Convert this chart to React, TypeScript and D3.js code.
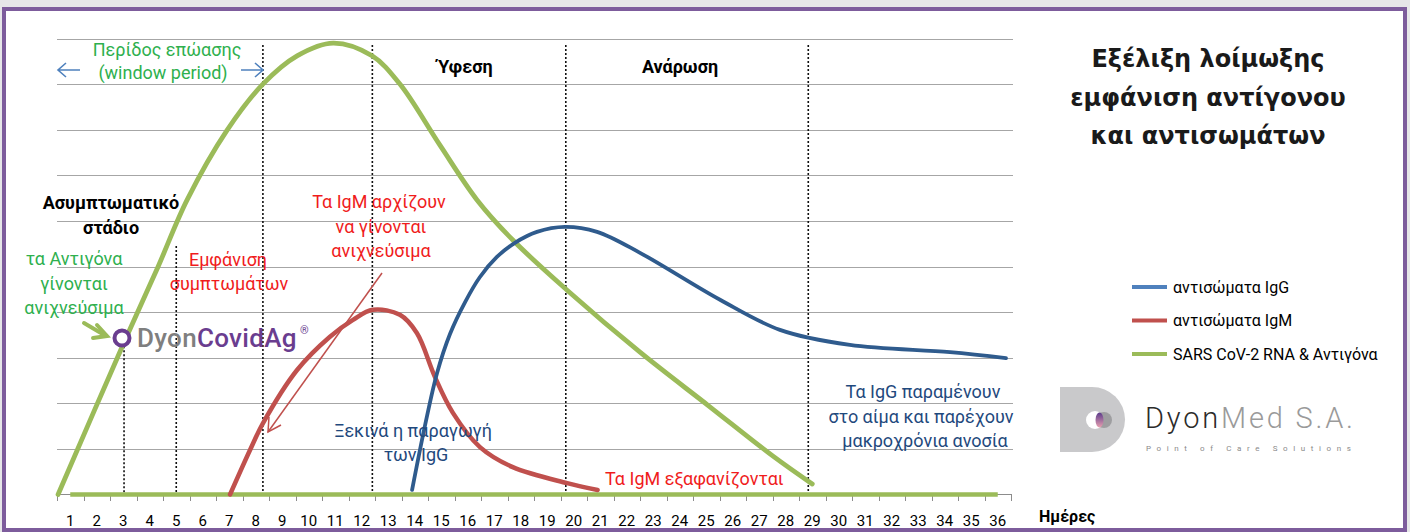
import React from 'react';
import * as d3 from 'd3';

// days on the x axis
const days = d3.range(1, 37);

// values: [day, level]
const antigenCurve: [number, number][] = [
  [0.54, 0], [3.07, 3.39], [4.31, 4.99], [5.41, 6.46], [6.92, 7.99], [8.27, 9.0],
  [9.56, 9.62], [10.92, 9.9], [12.39, 9.62], [13.44, 9.0], [14.95, 7.66], [16.35, 6.46],
  [17.7, 5.58], [19.75, 4.48], [22.5, 3.12], [25.1, 1.94], [27.52, 0.84], [29, 0.23],
];
const antigenFloor: [number, number][] = [[1, 0], [36, 0]];

const igmCurve: [number, number][] = [
  [7.03, 0], [7.78, 0.97], [8.27, 1.56], [9.56, 2.73], [10.8, 3.46], [11.67, 3.83],
  [12.42, 4.05], [13.44, 3.94], [14.08, 3.54], [14.76, 2.58], [15.44, 1.79],
  [16.46, 1.04], [17.7, 0.6], [19.75, 0.25], [20.9, 0.1],
];

const iggCurve: [number, number][] = [
  [13.9, 0.1], [14.39, 1.52], [14.84, 2.66], [15.33, 3.52], [15.9, 4.22], [16.46, 4.77],
  [17.1, 5.21], [17.78, 5.52], [18.61, 5.76], [19.67, 5.87], [20.88, 5.76], [22.5, 5.3],
  [25.52, 4.27], [27.78, 3.61], [30.42, 3.28], [34.2, 3.12], [36.31, 2.99],
];

// dotted phase markers: [day, top level]
const markers: [number, number][] = [
  [3.03, 3.25], [5.0, 5.45], [8.27, 9.86], [12.4, 9.86], [19.7, 9.86], [28.85, 9.86],
];

const legendItems = [
  { label: 'αντισώματα IgG', color: '#4f81bd' },
  { label: 'αντισώματα IgM', color: '#c0504d' },
  { label: 'SARS CoV-2 RNA & Αντιγόνα', color: '#9bbb59' },
];

const titleLines = ['Εξέλιξη λοίμωξης', 'εμφάνιση αντίγονου', 'και αντισωμάτων'];

const W = 1410;
const H = 532;
const FONT = 'Roboto, "Noto Sans", sans-serif';
const RED_TXT = '#f01c1c';
const GREEN_TXT = '#2eb04e';
const BLUE_TXT = '#1f497d';

export default function App() {
  const xBand = d3.scaleBand<number>().domain(days).range([57, 1011]);
  const x = d3.scaleLinear().domain([0.5, 36.5]).range([57, 1011]);
  const y = d3.scaleLinear().domain([0, 10]).range([494.5, 38.5]);

  const line = d3
    .line<[number, number]>()
    .x((d) => x(d[0]))
    .y((d) => y(d[1]))
    .curve(d3.curveCatmullRom.alpha(0.5));

  const gridVals = d3.range(1, 11);
  const tickEdges = d3.range(0, 37).map((i) => 57 + i * xBand.bandwidth());

  return (
    <div style={{ position: 'absolute', left: 0, top: 0 }}>
      <svg width={W} height={H} style={{ display: 'block', fontFamily: FONT }}>
        <defs>
          <linearGradient id="lens" x1="0" y1="0" x2="0" y2="1">
            <stop offset="0" stopColor="#5b3b8c" />
            <stop offset="1" stopColor="#e8a0b0" />
          </linearGradient>
        </defs>
        <rect x={0} y={0} width={W} height={H} fill="#e6e6e8" />
        <rect x={4} y={9} width={1401} height={521} fill="#fff" stroke="#7d5c9c" strokeWidth={4} />

        {/* gridlines */}
        <g stroke="#a6a6a6" strokeWidth={1}>
          {gridVals.map((v) => (
            <line key={v} x1={57} x2={1013} y1={Math.round(y(v)) + 0.5} y2={Math.round(y(v)) + 0.5} />
          ))}
        </g>

        {/* axis */}
        <g stroke="#8c8c8c" strokeWidth={1}>
          <line x1={57} x2={1011} y1={494.5} y2={494.5} />
          {tickEdges.map((t, i) => (
            <line key={i} x1={Math.round(t) + 0.5} x2={Math.round(t) + 0.5} y1={494} y2={501} />
          ))}
        </g>
        <g fontSize={15} fill="#000" textAnchor="middle">
          {days.map((d) => (
            <text key={d} x={xBand(d)! + xBand.bandwidth() / 2} y={526}>
              {d}
            </text>
          ))}
        </g>
        <text x={1039} y={522} fontSize={16} fontWeight={700}>
          Ημέρες
        </text>

        {/* phase markers */}
        <g stroke="#111" strokeWidth={1.6} strokeDasharray="2,2">
          {markers.map(([d, top], i) => (
            <line key={i} x1={x(d)} x2={x(d)} y1={y(top)} y2={494} />
          ))}
        </g>

        {/* series */}
        <path d={line(antigenFloor)!} fill="none" stroke="#9bbb59" strokeWidth={4.5} />
        <path d={line(antigenCurve)!} fill="none" stroke="#9bbb59" strokeWidth={4.8} strokeLinecap="round" />
        <path d={line(igmCurve)!} fill="none" stroke="#c0504d" strokeWidth={4.5} strokeLinecap="round" />
        <path d={line(iggCurve)!} fill="none" stroke="#2f5b8d" strokeWidth={3.8} strokeLinecap="round" />

        {/* window period */}
        <g fill={GREEN_TXT} fontSize={18} textAnchor="middle">
          <text x={167} y={56}>Περίδος επώασης</text>
          <text x={163} y={79}>(window period)</text>
        </g>
        <g stroke="#4f81bd" strokeWidth={1.6} fill="none">
          <path d="M58,70 H80 M66,63 L58,70 L66,77" />
          <path d="M241,70 H263 M255,63 L263,70 L255,77" />
        </g>

        <g fontWeight={700} fontSize={18} textAnchor="middle" fill="#000">
          <text x={465} y={73}>Ύφεση</text>
          <text x={680} y={73}>Ανάρωση</text>
          <text x={111} y={209}>Ασυμπτωματικό</text>
          <text x={111} y={234}>στάδιο</text>
        </g>

        {/* title */}
        <g fontFamily='"DejaVu Sans", sans-serif' fontWeight={700} fontSize={24} textAnchor="middle" fill="#1a1a1a">
          {titleLines.map((t, i) => (
            <text key={i} x={1208} y={67 + i * 38.5}>
              {t}
            </text>
          ))}
        </g>

        {/* antigen note */}
        <g fill={GREEN_TXT} fontSize={18} textAnchor="middle">
          <text x={74} y={265}>τα Αντιγόνα</text>
          <text x={74} y={290}>γίνονται</text>
          <text x={74} y={314}>ανιχνεύσιμα</text>
        </g>
        <g stroke="#9bbb59" strokeWidth={4} fill="none" strokeLinecap="round">
          <path d="M84,323 L106,336" />
          <path d="M97,325 L107,336 L93,338" />
        </g>
        <circle cx={122} cy={338} r={7.5} fill="#fff" stroke="#6a3d8f" strokeWidth={4} />
        <text x={137} y={347} fontSize={26} fontWeight={500} letterSpacing={0.3}>
          <tspan fill="#7f7f7f">Dyon</tspan>
          <tspan fill="#6a3d8f">CovidAg</tspan>
        </text>
        <text x={300} y={334} fontSize={11} fill="#6a3d8f">®</text>

        {/* symptom notes */}
        <g fill={RED_TXT} fontSize={18} textAnchor="middle">
          <text x={228} y={266}>Εμφάνιση</text>
          <text x={229} y={290}>συμπτωμάτων</text>
          <text x={379} y={208}>Τα IgM αρχίζουν</text>
          <text x={381} y={233}>να γίνονται</text>
          <text x={381} y={257}>ανιχνεύσιμα</text>
        </g>
        <g stroke="#c0504d" strokeWidth={1.5} fill="none">
          <path d="M382,273 L268,432" />
          <path d="M269,417 L268,432 L281,425" />
        </g>

        <g fill={BLUE_TXT} fontSize={18} textAnchor="middle">
          <text x={413} y={437}>Ξεκινά η παραγωγή</text>
          <text x={416} y={461}>των IgG</text>
          <text x={923} y={398}>Τα IgG παραμένουν</text>
          <text x={921} y={423}>στο αίμα και παρέχουν</text>
          <text x={925} y={447}>μακροχρόνια ανοσία</text>
        </g>
        <text x={605} y={485} fill={RED_TXT} fontSize={18}>
          Τα IgM εξαφανίζονται
        </text>

        {/* legend */}
        {legendItems.map((it, i) => (
          <g key={i} transform={`translate(1132,${287 + i * 33.5})`}>
            <line x1={0} x2={35} y1={0} y2={0} stroke={it.color} strokeWidth={4} />
            <text x={41} y={5.5} fontSize={16} fill="#000">
              {it.label}
            </text>
          </g>
        ))}

        {/* DyonMed logo */}
        <path d="M1060,387 H1092 A33,32.5 0 0 1 1092,452 H1060 Z" fill="#c9c9cb" />
        <circle cx={1095} cy={420} r={9} fill="#fff" />
        <circle cx={1104} cy={420} r={8} fill="#9e9ea0" />
        <ellipse cx={1099.5} cy={420} rx={4} ry={7.5} fill="url(#lens)" />
        <text x={1145} y={428} fontSize={29} fontWeight={300} letterSpacing={2.8}>
          <tspan fill="#2b2b2b">Dyon</tspan>
          <tspan fill="#9a9a9a">Med S.A.</tspan>
        </text>
        <text x={1146} y={451} fontSize={8} letterSpacing={5.6} fill="#8a8a8a">
          Point of Care Solutions
        </text>
      </svg>
    </div>
  );
}
